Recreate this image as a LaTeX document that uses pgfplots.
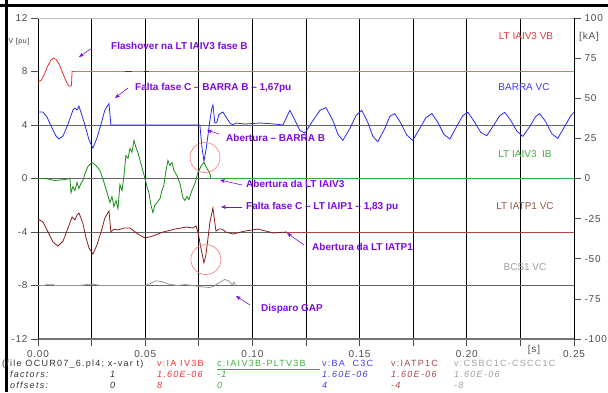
\documentclass[border=0pt]{standalone}
\usepackage{pgfplots}
\pgfplotsset{compat=1.18}
\usepackage{fontspec}
\setmainfont{Liberation Sans}
\newfontfamily\atp[LetterSpace=8]{Liberation Sans}
\newfontfamily\atpb[LetterSpace=14]{Liberation Sans}
\usetikzlibrary{arrows.meta}
\definecolor{cRed}{RGB}{240,50,50}
\definecolor{cRedL}{RGB}{250,100,100}
\definecolor{cBlue}{RGB}{40,40,250}
\definecolor{cGreen}{RGB}{20,140,20}
\definecolor{cGreenL}{RGB}{60,170,60}
\definecolor{cBrown}{RGB}{140,28,28}
\definecolor{cBrownL}{RGB}{175,70,70}
\definecolor{cGray}{RGB}{150,150,150}
\definecolor{cPurple}{RGB}{125,10,225}
\definecolor{cCirc}{RGB}{250,120,120}
\definecolor{lRed}{RGB}{225,60,60}
\definecolor{lBlue}{RGB}{60,60,240}
\definecolor{lGreen}{RGB}{60,175,60}
\definecolor{lBrown}{RGB}{150,90,60}
\definecolor{lGray}{RGB}{160,160,160}
\newcommand{\tickfont}{\atp\fontsize{10}{10}\selectfont}
\newcommand{\botfont}{\atpb\fontsize{9}{10}\selectfont}
\newcommand{\annfont}{\bfseries\fontsize{10}{11}\selectfont}
\begin{document}
\begin{tikzpicture}[x=1pt,y=1pt]
\path[use as bounding box] (0,0) rectangle (608,392);
\begin{axis}[
 at={(38pt,53pt)}, anchor=south west, scale only axis,
 width=536pt, height=321pt,
 xmin=0, xmax=0.25, ymin=-12, ymax=12,
 axis x line*=bottom, axis y line*=left,
 x axis line style={draw=black!55, line width=1.3pt, -},
 y axis line style={draw=black, line width=1pt, -},
 xtick={0,0.025,0.05,0.075,0.1,0.125,0.15,0.175,0.2,0.225,0.25},
 xticklabels={0.00,,0.05,,0.10,,0.15,,0.20,,0.25},
 ytick={-12,-8,-4,0,4,12},
 yticklabels={-12,-8,-4,0,4,12},
 extra y ticks={8}, extra y tick labels={8},
 extra y tick style={grid=none},
 tick align=outside, major tick length=7pt,
 tick style={draw=black!70, line width=0.7pt},
 xmajorgrids, ymajorgrids,
 major x grid style={black, line width=0.9pt},
 major y grid style={black!60, line width=0.6pt},
 ticklabel style={font=\tickfont, text=black!70},
 xticklabel style={yshift=-1pt},
]
% BCS1 VC (gray, offset -8)
\addplot[cGray, line width=0.8pt] coordinates {
(0,-8) (0.003,-8) (0.0045,-7.9) (0.0065,-7.9) (0.008,-8) (0.02,-8) (0.0235,-7.9) (0.0265,-7.92) (0.029,-8) (0.05,-8) (0.0525,-7.85) (0.055,-7.65) (0.058,-7.72) (0.061,-7.9) (0.065,-8.0) (0.0685,-7.93) (0.072,-8.0) (0.0765,-8.1) (0.080,-8.15) (0.082,-8.05) (0.0845,-7.8) (0.087,-7.55) (0.089,-7.65) (0.0905,-7.95) (0.0915,-7.75) (0.092,-8.0)};
% LT IATP1 VC (brown, offset -4)
\addplot[cBrown, line width=0.8pt] coordinates {
(0,-3.03) (0.0023,-3.25) (0.0047,-4.0) (0.007,-4.75) (0.0093,-5.05) (0.0117,-4.67) (0.014,-3.7) (0.0159,-2.88) (0.0172,-3.1) (0.0182,-2.73) (0.0191,-2.58) (0.02,-2.95) (0.021,-3.4) (0.0224,-4.45) (0.0238,-5.2) (0.0256,-5.65) (0.0275,-4.97) (0.0294,-4.0) (0.0312,-2.95) (0.0331,-2.43) (0.034,-4.0) (0.0354,-3.78) (0.0373,-3.85) (0.0401,-3.7) (0.0429,-3.7) (0.0466,-4.15) (0.0499,-4.45) (0.0536,-4.3) (0.0583,-4.0) (0.0639,-3.78) (0.069,-3.63) (0.0723,-3.7) (0.0737,-3.55) (0.0746,-4.0) (0.076,-5.2) (0.0774,-6.3) (0.0783,-5.72) (0.0793,-4.45) (0.0802,-3.25) (0.0816,-2.2) (0.0825,-3.33) (0.083,-3.93) (0.0844,-3.78) (0.0858,-3.78) (0.0876,-4.0) (0.0909,-4.15) (0.0965,-3.93) (0.1026,-3.78) (0.1096,-4.07) (0.1161,-4.0)};
\addplot[cBrownL, line width=0.9pt] coordinates {(0.1161,-4.0) (0.25,-4.0)};
% LT IAIV3 IB (green, offset 0)
\addplot[cGreen, line width=0.8pt] coordinates {
(0,0) (0.0033,0) (0.0079,-0.15) (0.0126,-0.07) (0.0149,0) (0.0154,-1.05) (0.0163,-0.6) (0.0172,-0.9) (0.0182,-0.3) (0.0191,-0.75) (0.02,-0.37) (0.021,-0.15) (0.0219,0.37) (0.0233,0.9) (0.0252,1.2) (0.027,0.97) (0.0289,0.6) (0.0308,-0.3) (0.0326,-1.27) (0.0336,-1.8) (0.0345,-1.35) (0.0354,-2.1) (0.0364,-1.65) (0.0373,-2.25) (0.0382,-0.45) (0.0392,-0.9) (0.0401,0.22) (0.041,1.72) (0.042,1.5) (0.0429,2.25) (0.0438,1.95) (0.0448,2.85) (0.0457,2.32) (0.0466,1.95) (0.048,1.12) (0.0499,0) (0.0508,-0.6) (0.0517,-1.05) (0.0527,-2.0) (0.0536,-2.55) (0.0545,-2.0) (0.0555,-1.8) (0.0569,-1.5) (0.0578,-0.9) (0.0587,-0.52) (0.0597,0.6) (0.0606,1.35) (0.0615,0.97) (0.0625,1.2) (0.0634,0.6) (0.0648,0.22) (0.0662,-0.37) (0.0676,-1.42) (0.0685,-1.65) (0.0695,-1.35) (0.0704,-1.57) (0.0718,-0.9) (0.0732,-0.37) (0.0746,0.45) (0.076,0.9) (0.0774,1.2) (0.0788,0.75) (0.0802,0.37) (0.0807,0)};
\addplot[cGreenL, line width=0.9pt] coordinates {(0.0807,0) (0.25,0)};
% BARRA VC (blue, offset 4)
\addplot[cBlue, line width=0.8pt] coordinates {
(0,4.97) (0.0023,4.97) (0.0042,4.6) (0.0065,3.78) (0.0084,3.18) (0.0098,2.95) (0.0117,3.18) (0.014,4.07) (0.0163,5.12) (0.0172,5.27) (0.0182,5.12) (0.0191,5.42) (0.02,4.97) (0.0219,4.0) (0.0238,2.88) (0.0256,2.28) (0.0275,3.03) (0.0294,4.07) (0.0312,5.12) (0.0331,5.6) (0.034,4.0) (0.0755,4.0) (0.0765,2.3) (0.0774,1.3) (0.0783,2.1) (0.0793,3.25) (0.0802,4.37) (0.0811,5.27) (0.0816,5.5) (0.0825,4.15) (0.0834,4.2) (0.0844,4.8) (0.0862,4.97) (0.0881,4.5) (0.0895,4.15) (0.0909,4.0) (0.0923,4.15) (0.0965,4.07) (0.1035,4.15) (0.1105,4.07) (0.1142,4.0) (0.1175,5.1) (0.1203,4.2) (0.1221,3.6) (0.1245,3.4) (0.1277,4.2) (0.1315,5.1) (0.1343,5.3) (0.1375,4.35) (0.1399,3.3) (0.1422,2.85) (0.1455,3.75) (0.1483,4.7) (0.151,5.1) (0.1538,4.2) (0.1562,3.15) (0.1585,2.75) (0.1618,3.75) (0.1641,4.65) (0.1664,4.85) (0.1692,4.15) (0.172,3.25) (0.1748,2.85) (0.1781,3.75) (0.1809,4.55) (0.1837,4.85) (0.1865,4.2) (0.1893,3.3) (0.1921,2.95) (0.1953,3.9) (0.1981,4.7) (0.2005,4.95) (0.2033,4.3) (0.2065,3.45) (0.2093,3.2) (0.2126,4.0) (0.2154,4.7) (0.2177,4.95) (0.2205,4.35) (0.2233,3.55) (0.2261,3.15) (0.2294,3.9) (0.2322,4.65) (0.234,4.85) (0.2368,4.25) (0.2396,3.35) (0.2424,3.0) (0.2457,3.9) (0.2485,4.7) (0.25,4.95)};
% LT IAIV3 VB (red, offset 8)
\addplot[cRedL, line width=1.1pt] coordinates {(0.0159,8.0) (0.25,8.0)};
\addplot[cBrown, line width=1pt] coordinates {(0.0405,7.97) (0.0440,7.97)};
\addplot[cBrown, line width=1pt] coordinates {(0.0495,8.03) (0.0520,8.03)};
\addplot[cRed, line width=0.8pt] coordinates {
(0,7.2) (0.0015,7.35) (0.003,7.8) (0.0045,8.4) (0.006,8.85) (0.0072,9.0) (0.0085,8.9) (0.010,8.5) (0.0115,7.9) (0.013,7.3) (0.0142,6.95) (0.015,6.9) (0.0156,6.95) (0.0159,8.0) (0.017,8.0)};
\draw[black!25, line width=0.8pt] (axis cs:0,12) -- (axis cs:0.25,12);
\draw[cCirc, line width=0.6pt] (axis cs:0.0779,1.57) circle[radius=15pt];
\draw[cCirc, line width=0.6pt] (axis cs:0.0783,-6.06) circle[radius=15pt];
\end{axis}
\begin{axis}[
 at={(38pt,53pt)}, anchor=south west, scale only axis,
 width=536pt, height=321pt,
 xmin=0, xmax=0.25, ymin=-100, ymax=100,
 axis y line*=right, axis x line=none,
 y axis line style={draw=black, line width=1pt, -},
 ytick={-100,-75,-50,-25,0,25,50,75,100},
 yticklabels={-100,-75,-50,-25,0,25,50,75,100},
 tick align=outside, major tick length=7pt,
 tick style={draw=black!70, line width=0.7pt},
 ticklabel style={font=\tickfont, text=black!70},
]
\addplot[draw=none] coordinates {(0,0)};
\end{axis}
% frame
\draw[black, line width=3pt] (6.5,392) -- (6.5,0);
\draw[black, line width=3pt] (0,386.5) -- (608,386.5);
% axis texts
\node[font=\atp\fontsize{7}{8}\selectfont, text=black!80] at (19,350) {V [pu]};
\node[font=\tickfont, text=black!70] at (589,355) {[kA]};
\node[font=\tickfont, text=black!70] at (534,42) {[s]};
% series labels
\node[font=\fontsize{10}{11}\selectfont, text=lRed] at (526,356) {LT IAIV3 VB};
\node[font=\fontsize{10}{11}\selectfont, text=lBlue] at (524,305) {BARRA VC};
\node[font=\fontsize{10}{11}\selectfont, text=lGreen] at (525,238) {LT IAIV3\ \ IB};
\node[font=\fontsize{10}{11}\selectfont, text=lBrown] at (525,186) {LT IATP1 VC};
\node[font=\fontsize{10}{11}\selectfont, text=lGray] at (525,125) {BCS1 VC};
% annotations
\begin{scope}[cPurple]
\node[font=\annfont, anchor=west, inner sep=0pt] at (111,346) {Flashover na LT IAIV3 fase B};
\draw[line width=0.6pt, -{Stealth[length=5pt,width=4pt]}] (92,344) -- (79,335);
\node[font=\annfont, anchor=west, inner sep=0pt] at (135,304) {Falta fase C – BARRA B – 1,67pu};
\draw[line width=0.6pt, -{Stealth[length=5pt,width=4pt]}] (128,304) -- (115,294);
\node[font=\annfont, anchor=west, inner sep=0pt] at (226,254) {Abertura – BARRA B};
\draw[line width=0.6pt, -{Stealth[length=5pt,width=4pt]}] (219,258) -- (207,262);
\node[font=\annfont, anchor=west, inner sep=0pt] at (246,208) {Abertura da LT IAIV3};
\draw[line width=0.6pt, -{Stealth[length=5pt,width=4pt]}] (242,207) -- (220,212);
\node[font=\annfont, anchor=west, inner sep=0pt] at (246,185) {Falta fase C – LT IAIP1 – 1,83 pu};
\draw[line width=0.6pt, -{Stealth[length=5pt,width=4pt]}] (242,185) -- (221,185);
\node[font=\annfont, anchor=west, inner sep=0pt] at (312,145) {Abertura da LT IATP1};
\draw[line width=0.6pt, -{Stealth[length=5pt,width=4pt]}] (304,147) -- (287,159);
\node[font=\annfont, anchor=west, inner sep=0pt] at (261,83) {Disparo GAP};
\draw[line width=0.6pt, -{Stealth[length=5pt,width=4pt]}] (250,87) -- (236,96);
\end{scope}
% bottom info
\begin{scope}[every node/.style={font=\botfont, anchor=base west, inner sep=0pt}]
\node[text=black!80] at (2,26) {(file OCUR07\_6.pl4; x-var t)};
\node[text=black!80] at (10,15) {\itshape factors:};
\node[text=black!80] at (10,4) {\itshape offsets:};
\node[text=black!80] at (110,15) {\itshape 1};
\node[text=black!80] at (110,4) {\itshape 0};
\node[text=cRed] at (157,26) {v:IA IV3B};
\node[text=cRed] at (157,15) {\itshape 1.60E-06};
\node[text=cRed] at (157,4) {\itshape 8};
\node[text=lGreen] at (217,26) {c:IAIV3B-PLTV3B};
\node[text=lGreen] at (217,15) {\itshape -1};
\node[text=lGreen] at (217,4) {\itshape 0};
\node[text=lBlue] at (322,26) {v:BA\ \ C3C};
\node[text=lBlue] at (322,15) {\itshape 1.60E-06};
\node[text=lBlue] at (322,4) {\itshape 4};
\node[text=cBrown!80] at (391,26) {v:IATP1C};
\node[text=cBrown!80] at (391,15) {\itshape 1.60E-06};
\node[text=cBrown!80] at (391,4) {\itshape -4};
\node[text=lGray] at (454,26) {v:CSBC1C-CSCC1C};
\node[text=lGray] at (454,15) {\itshape 1.60E-06};
\node[text=lGray] at (454,4) {\itshape -8};
\end{scope}
\draw[lGreen, line width=0.6pt] (217,23) -- (320,23);
\end{tikzpicture}
\end{document}
